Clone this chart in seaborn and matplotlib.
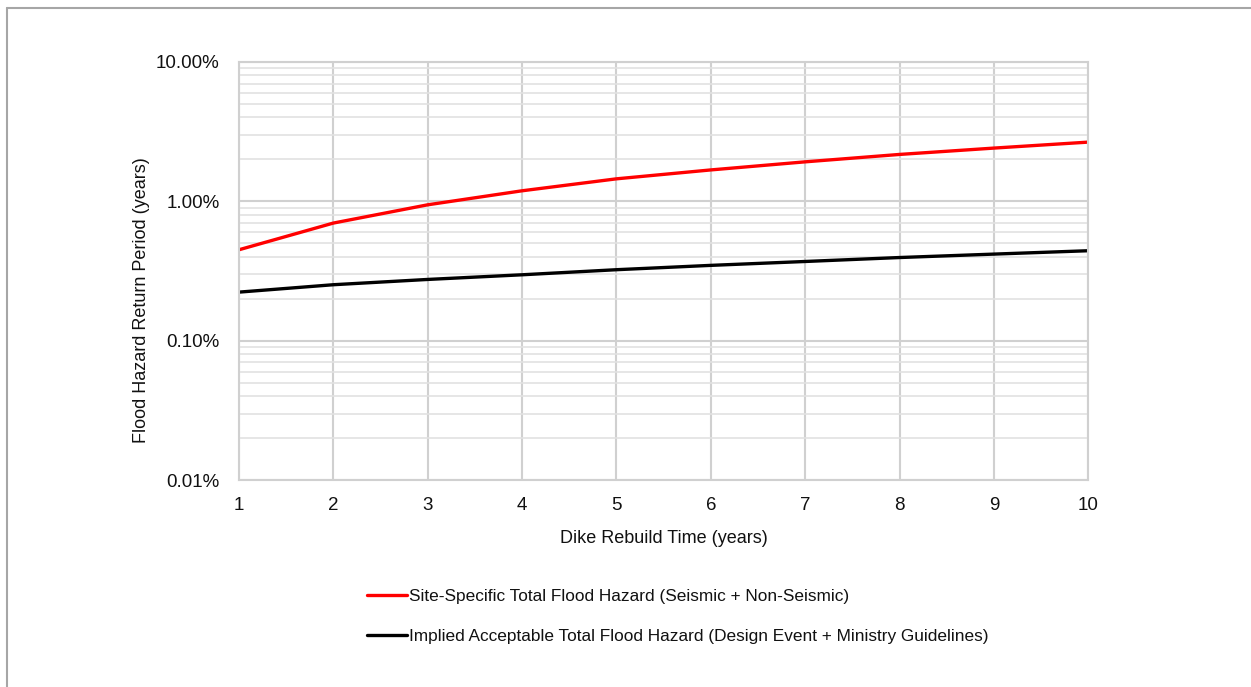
import numpy as np
import pandas as pd
import matplotlib
matplotlib.use('Agg')
import matplotlib.pyplot as plt
import matplotlib.ticker as mticker
from matplotlib.lines import Line2D
import seaborn as sns

# Data (hazard in percent)
rebuild_years = [1, 2, 3, 4, 5, 6, 7, 8, 9, 10]
site_specific = [0.449, 0.698, 0.944, 1.19, 1.45, 1.68, 1.92, 2.17, 2.41, 2.66]
implied_acceptable = [0.223, 0.252, 0.275, 0.297, 0.323, 0.347, 0.370, 0.395, 0.418, 0.442]
series_names = ['Site-Specific Total Flood Hazard (Seismic + Non-Seismic)',
                'Implied Acceptable Total Flood Hazard (Design Event + Ministry Guidelines)']
y_ticks = [0.01, 0.1, 1, 10]

sns.set_style('white')
plt.rcParams['font.family'] = ['Liberation Sans Narrow', 'Liberation Sans', 'DejaVu Sans']

df = pd.DataFrame({
    'year': rebuild_years * 2,
    'hazard': site_specific + implied_acceptable,
    'series': [series_names[0]] * 10 + [series_names[1]] * 10,
})

fig = plt.figure(figsize=(12.51, 6.87), dpi=100)
ax = fig.add_axes([0.191, 0.3013, 0.679, 0.6085])

sns.lineplot(data=df, x='year', y='hazard', hue='series',
             palette={series_names[0]: '#ff0000', series_names[1]: '#000000'},
             linewidth=2.4, ax=ax, legend=False)

ax.set_yscale('log')
ax.set_ylim(0.01, 10)
ax.set_xlim(1, 10)
ax.set_xticks(rebuild_years)
ax.set_yticks(y_ticks)
ax.yaxis.set_major_formatter(mticker.FuncFormatter(lambda v, p: f'{v:.2f}%'))
ax.yaxis.set_minor_locator(mticker.LogLocator(base=10, subs=np.arange(2, 10)))
ax.yaxis.set_minor_formatter(mticker.NullFormatter())

ax.grid(True, which='major', axis='both', color='#d0d0d0', linewidth=1.5)
ax.grid(True, which='minor', axis='y', color='#e2e2e2', linewidth=1.2)
ax.set_axisbelow(True)
for s in ax.spines.values():
    s.set_color('#d0d0d0')
    s.set_linewidth(1.5)
ax.tick_params(axis='both', which='both', length=0, labelsize=13.5, colors='#111111')
ax.tick_params(axis='y', pad=14)
ax.tick_params(axis='x', pad=12)

ax.set_xlabel('Dike Rebuild Time (years)', fontsize=13, labelpad=12, color='#111111')
ax.set_ylabel('Flood Hazard Return Period (years)', fontsize=13, color='#111111')
ax.yaxis.set_label_coords(-0.105, 0.43)

handles = [Line2D([], [], color='#ff0000', lw=2.4),
           Line2D([], [], color='#000000', lw=2.4)]
fig.legend(handles, series_names, loc='upper left', bbox_to_anchor=(0.288, 0.153),
           frameon=False, fontsize=12.4, handlelength=2.3, handletextpad=0.1,
           labelspacing=1.45, borderaxespad=0, labelcolor='#111111')

# outer chart border (top and left edges visible)
fig.add_artist(Line2D([0.0056, 1.0], [0.988, 0.988], color='#a6a6a6', lw=1.5, transform=fig.transFigure))
fig.add_artist(Line2D([0.0056, 0.0056], [0.0, 0.988], color='#a6a6a6', lw=1.5, transform=fig.transFigure))

fig.savefig('out.png', dpi=100)
